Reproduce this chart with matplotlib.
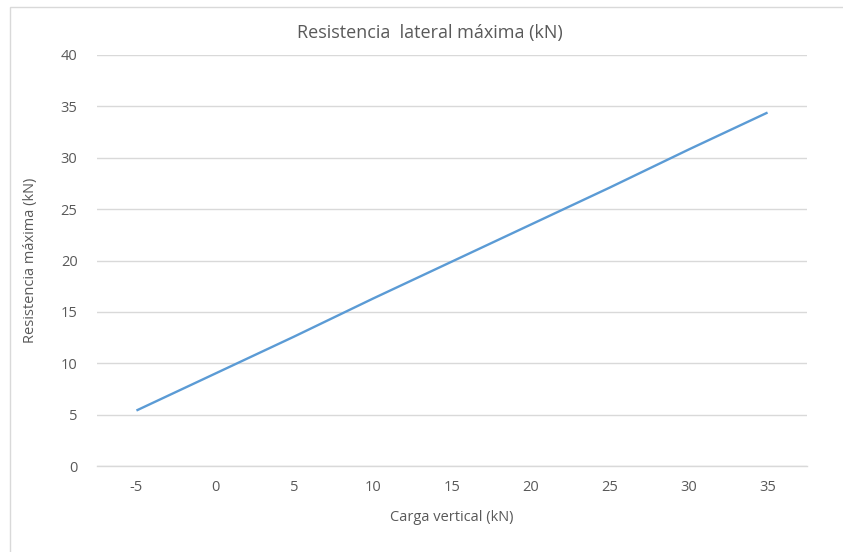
import numpy as np
import matplotlib.pyplot as plt
from matplotlib.patches import Rectangle

# Data
carga_vertical = [-5, 0, 5, 10, 15, 20, 25, 30, 35]
resistencia = [5.4, 9.0, 12.6, 16.3, 19.9, 23.5, 27.1, 30.8, 34.4]

x_ticks = [-5, 0, 5, 10, 15, 20, 25, 30, 35]
y_ticks = [0, 5, 10, 15, 20, 25, 30, 35, 40]

TEXT = "#595959"
GRID = "#d9d9d9"
LINE = "#5b9bd5"

plt.rcParams["font.family"] = ["Open Sans", "DejaVu Sans"]
plt.rcParams["axes.unicode_minus"] = False

fig = plt.figure(figsize=(8.43, 5.52), dpi=100)
fig.patch.set_facecolor("white")

# chart area border
fig.patches.append(Rectangle((10 / 843, -0.1), 1.2, 1.1 - 7 / 552,
                             transform=fig.transFigure, fill=False,
                             edgecolor="#d9d9d9", linewidth=1.0))

ax = fig.add_axes([97 / 843, 1 - 466 / 552, 710 / 843, 411 / 552])
ax.plot(carga_vertical, resistencia, color=LINE, linewidth=1.7,
        solid_capstyle="butt")

ax.set_xlim(-7.5, 37.5)
ax.set_ylim(0, 40)
ax.set_xticks(x_ticks)
ax.set_yticks(y_ticks)

ax.grid(axis="y", color=GRID, linewidth=1.0)
ax.set_axisbelow(True)
for side in ["top", "right", "left"]:
    ax.spines[side].set_visible(False)
ax.spines["bottom"].set_color(GRID)
ax.spines["bottom"].set_linewidth(1.0)

ax.tick_params(axis="both", length=0, labelsize=10.5, colors=TEXT)
ax.tick_params(axis="x", pad=10)
ax.tick_params(axis="y", pad=14)

ax.set_xlabel("Carga vertical (kN)", fontsize=10.5, color=TEXT, labelpad=11)
ax.set_ylabel("Resistencia máxima (kN)", fontsize=10.5, color=TEXT, labelpad=16)
fig.text(430 / 843, 1 - 33 / 552, "Resistencia  lateral máxima (kN)",
         ha="center", va="center", fontsize=13, color=TEXT)

fig.savefig("out.png", dpi=100)
